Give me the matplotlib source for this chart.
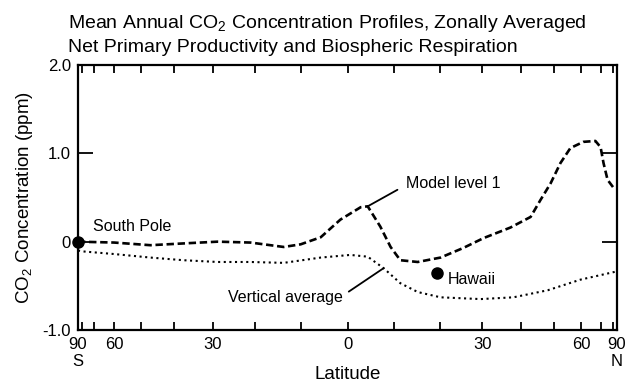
import numpy as np
import matplotlib
matplotlib.use("Agg")
import matplotlib.pyplot as plt

plt.rcParams["font.family"] = ["Liberation Sans", "DejaVu Sans"]
plt.rcParams["mathtext.default"] = "regular"

# zonal mean CO2 anomaly (ppm) vs latitude (deg, negative = south)
model_lat = [-90, -60, -47, -37.5, -28.8, -21.1, -13.7, -10, -5.7, -1.5,
             2.8, 4.3, 7.0, 9.2, 11.3, 15.1, 20.2, 25.5, 30.3, 37.2,
             42.8, 45.7, 48.9, 52.2, 55.8, 61.1, 66.9, 69.9, 71.8, 74.8,
             80.8, 90]
model_co2 = [0.0, -0.01, -0.04, -0.02, 0.0, -0.01, -0.06, -0.03, 0.05, 0.25,
             0.39, 0.40, 0.17, -0.06, -0.21, -0.23, -0.18, -0.07, 0.04, 0.16,
             0.28, 0.47, 0.66, 0.89, 1.06, 1.13, 1.14, 1.07, 0.89, 0.70,
             0.61, 0.60]

vavg_lat = [-90, -79.5, -60, -47, -37.5, -28.8, -21.1, -13.7, -5.7, 0.6,
            4.3, 7.7, 11.3, 15.1, 20.2, 29.6, 38, 48, 59.8, 84, 90]
vavg_co2 = [-0.10, -0.11, -0.14, -0.18, -0.21, -0.23, -0.23, -0.24, -0.18, -0.15,
            -0.17, -0.30, -0.47, -0.57, -0.63, -0.65, -0.63, -0.55, -0.43, -0.34,
            -0.33]

# observing stations
station_lat = [-90, 19.5]
station_co2 = [0.0, -0.35]

lat_ticks = [-90, -60, -30, 0, 30, 60, 90]
lat_labels = ["90\nS", "60", "30", "0", "30", "60", "90\nN"]
lat_minor = [-80, -70, -50, -40, -20, -10, 10, 20, 40, 50, 70, 80]
co2_ticks = [-1.0, 0.0, 1.0, 2.0]
co2_labels = ["-1.0", "0", "1.0", "2.0"]


def to_sine(lat):
    return np.sin(np.radians(lat))


def from_sine(s):
    return np.degrees(np.arcsin(np.clip(s, -1, 1)))


fig = plt.figure(figsize=(6.28, 3.87), dpi=100)
ax = fig.add_axes([78 / 628, 57 / 387, 539 / 628, 265 / 387])

# area-weighted latitude axis
ax.set_xscale("function", functions=(to_sine, from_sine))
ax.set_xlim(-90, 90)
ax.set_ylim(-1.0, 2.0)

ax.plot(model_lat, model_co2, color="black", lw=1.9, dashes=(2.8, 1.4))
ax.plot(vavg_lat, vavg_co2, color="black", lw=1.5, dashes=(1, 1.7))
ax.plot(station_lat, station_co2, "o", color="black", ms=8,
        clip_on=False, zorder=5)

ax.set_xticks(lat_ticks, lat_labels)
ax.set_xticks(lat_minor, minor=True)
ax.tick_params(axis="x", which="both", direction="in", top=True,
               length=6, width=1.3, labelsize=12, pad=5)
ax.set_yticks(co2_ticks, co2_labels)
ax.tick_params(axis="y", direction="in", right=True, length=11,
               width=1.3, labelsize=12, pad=5)
for sp in ax.spines.values():
    sp.set_linewidth(1.6)

ax.set_xlabel("Latitude", fontsize=13.5)
ax.xaxis.set_label_coords(0.5, -0.135)
ax.set_ylabel("CO$_2$ Concentration (ppm)", fontsize=13.5)
ax.yaxis.set_label_coords(-0.08, 0.5)

ax.text(-70.5, 0.17, "South Pole", fontsize=11.5, va="center", ha="left")
ax.text(21.8, -0.43, "Hawaii", fontsize=11.5, va="center", ha="left")
ax.annotate("Model level 1", xy=(4.3, 0.40), xytext=(12.6, 0.66),
            fontsize=11.5, va="center", ha="left",
            arrowprops=dict(arrowstyle="-", color="black", lw=1.3,
                            relpos=(0, 0.4), shrinkA=5, shrinkB=0))
ax.annotate("Vertical average", xy=(7.7, -0.30), xytext=(-26.4, -0.63),
            fontsize=11.5, va="center", ha="left",
            arrowprops=dict(arrowstyle="-", color="black", lw=1.3,
                            relpos=(1, 0.6), shrinkA=3, shrinkB=0))

fig.text(68 / 628, 1 - 28 / 387,
         "Mean Annual CO$_2$ Concentration Profiles, Zonally Averaged",
         fontsize=14, va="baseline", ha="left")
fig.text(68 / 628, 1 - 52 / 387,
         "Net Primary Productivity and Biospheric Respiration",
         fontsize=14, va="baseline", ha="left")

fig.savefig("out.png", dpi=100)
